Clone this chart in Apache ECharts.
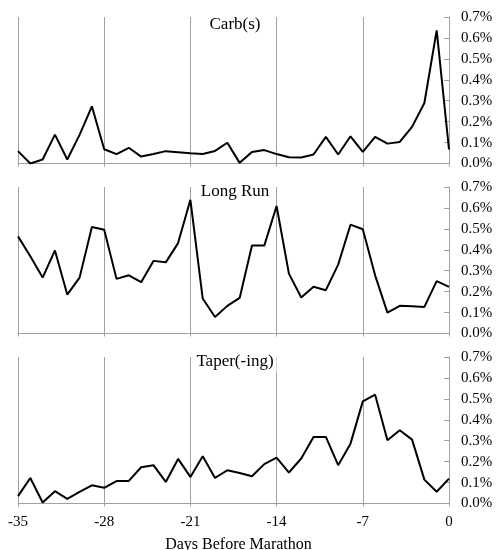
<!DOCTYPE html>
<html>
<head>
<meta charset="utf-8">
<script src="https://cdn.jsdelivr.net/npm/echarts@6/dist/echarts.min.js"></script>
<style>
  html, body { margin: 0; padding: 0; background: #fff; }
  #chart { width: 499px; height: 550px; }
</style>
</head>
<body>
<div id="chart"></div>
<script>
// ---- data (percent values) ----
const days = [-35, -34, -33, -32, -31, -30, -29, -28, -27, -26, -25, -24, -23, -22, -21, -20, -19, -18,
              -17, -16, -15, -14, -13, -12, -11, -10, -9, -8, -7, -6, -5, -4, -3, -2, -1, 0];
const panelTitles = ['Carb(s)', 'Long Run', 'Taper(-ing)'];
const carb = [0.059, 0.000, 0.019, 0.138, 0.019, 0.137, 0.273, 0.068, 0.045, 0.075, 0.033, 0.045,
              0.059, 0.054, 0.049, 0.045, 0.060, 0.099, 0.003, 0.055, 0.064, 0.045, 0.030, 0.029,
              0.043, 0.127, 0.043, 0.130, 0.056, 0.127, 0.095, 0.103, 0.175, 0.289, 0.636, 0.067];
const longRun = [0.464, 0.369, 0.267, 0.397, 0.186, 0.267, 0.509, 0.496, 0.261, 0.278, 0.245, 0.347,
                 0.340, 0.432, 0.639, 0.167, 0.079, 0.132, 0.170, 0.420, 0.420, 0.609, 0.286, 0.172,
                 0.223, 0.207, 0.329, 0.520, 0.498, 0.278, 0.100, 0.132, 0.130, 0.127, 0.250, 0.223];
const taper = [0.035, 0.122, 0.005, 0.059, 0.022, 0.056, 0.087, 0.075, 0.107, 0.108, 0.173, 0.183,
               0.103, 0.213, 0.127, 0.226, 0.122, 0.159, 0.146, 0.130, 0.188, 0.219, 0.148, 0.215,
               0.318, 0.318, 0.183, 0.286, 0.488, 0.520, 0.302, 0.350, 0.305, 0.114, 0.056, 0.119];
const xTicks = { min: -35, max: 0, interval: 7 };
const yTicks = { min: 0, max: 0.7, interval: 0.1 };
const xAxisName = 'Days Before Marathon';

// ---- chart ----
const FONT = '"Liberation Serif", "Times New Roman", serif';
const GRAY = '#A0A0A0';
const seriesData = [carb, longRun, taper];
const gridTops = [17, 187, 357];
const gridH = 146.5;

const chart = echarts.init(document.getElementById('chart'), null, { renderer: 'canvas' });

const grids = gridTops.map(t => ({
  left: 18, right: 50, top: t, height: gridH,
  containLabel: false, outerBoundsMode: 'none'
}));

const xAxes = gridTops.map((t, i) => ({
  type: 'value', gridIndex: i,
  min: xTicks.min, max: xTicks.max, interval: xTicks.interval,
  axisLine: { show: true, onZero: false, lineStyle: { color: GRAY, width: 1 } },
  axisTick: { show: true, length: 3, lineStyle: { color: GRAY } },
  splitLine: { show: true, lineStyle: { color: GRAY, width: 1 } },
  axisLabel: { show: i === 2, margin: 11, fontSize: 15, color: '#000', fontFamily: FONT },
  name: i === 2 ? xAxisName : '',
  nameLocation: 'middle', nameGap: 33,
  nameTextStyle: { fontSize: 16, color: '#000', fontFamily: FONT, padding: [0, 0, 0, 10] }
}));

const yAxes = gridTops.map((t, i) => ({
  type: 'value', gridIndex: i, position: 'right',
  min: yTicks.min, max: yTicks.max, interval: yTicks.interval,
  axisLine: { show: true, lineStyle: { color: GRAY, width: 1 } },
  axisTick: { show: true, inside: true, length: 5, lineStyle: { color: GRAY } },
  splitLine: { show: false },
  axisLabel: {
    margin: 12, fontSize: 15, color: '#000', fontFamily: FONT,
    formatter: v => v.toFixed(1) + '%'
  }
}));

const series = seriesData.map((vals, i) => ({
  type: 'line', xAxisIndex: i, yAxisIndex: i,
  data: days.map((d, k) => [d, vals[k]]),
  showSymbol: false, symbol: 'none',
  lineStyle: { color: '#000', width: 2 },
  animation: false, z: 3
}));

const titleCenters = [25, 192, 362];
const graphic = panelTitles.map((txt, i) => ({
  type: 'text', x: 235, y: titleCenters[i], z: 100,
  style: {
    text: txt, align: 'center', verticalAlign: 'middle',
    font: '17px ' + FONT, fill: '#000',
    backgroundColor: '#fff', padding: [2, 3]
  }
}));

chart.setOption({
  animation: false,
  backgroundColor: '#fff',
  grid: grids,
  xAxis: xAxes,
  yAxis: yAxes,
  series: series,
  graphic: graphic
});
</script>
</body>
</html>
